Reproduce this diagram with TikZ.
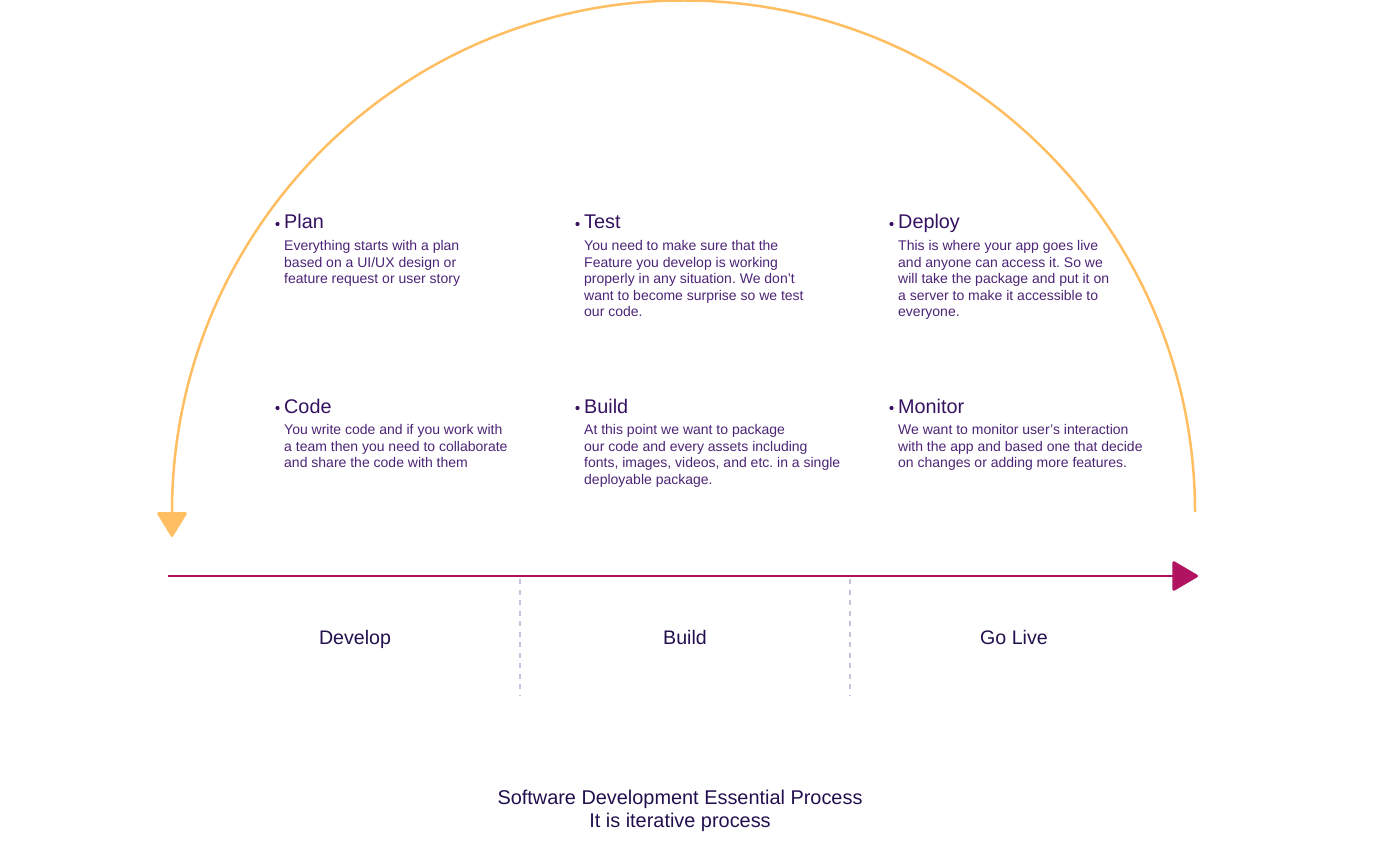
\documentclass[tikz,border=0pt]{standalone}
\usepackage{fontspec}
\setmainfont{Liberation Sans}
\usetikzlibrary{arrows.meta}
\frenchspacing
\definecolor{arcorange}{RGB}{255,190,98}
\definecolor{axismag}{RGB}{176,20,96}
\definecolor{dashlav}{RGB}{200,192,222}
\definecolor{titlepur}{RGB}{52,18,96}
\definecolor{bodypur}{RGB}{76,36,118}
\definecolor{labnavy}{RGB}{34,16,78}
\tikzset{
  steptitle/.style={anchor=base west, inner sep=0pt, text=titlepur, font=\fontsize{19.8}{22}\selectfont},
  stepbody/.style={anchor=north west, inner sep=0pt, align=left, text=bodypur, font=\fontsize{14}{16.5}\selectfont},
  stepdot/.style={circle, fill=titlepur, draw=none, inner sep=0pt, minimum size=4.2pt},
  phaselabel/.style={anchor=base, inner sep=0pt, text=labnavy, font=\fontsize{19.6}{22}\selectfont},
  captext/.style={anchor=base, inner sep=0pt, text=labnavy, font=\fontsize{19.9}{22}\selectfont},
  divider/.style={draw=dashlav, line width=1.1pt, dash pattern=on 5pt off 5.5pt},
}
\begin{document}
\begin{tikzpicture}[x=1pt,y=-1pt]
\useasboundingbox (0,0) rectangle (1400,861);
% arc
\coordinate (arcS) at (1195,512);
\coordinate (arcE) at (172,512);
\coordinate (arcTip) at (172,537);
\draw[arcorange, line width=2.5pt, -{Triangle[length=26pt,width=31pt,round]}]
  (arcS) arc[start angle=0, end angle=-180, radius=511.5] -- (arcTip);
% axis
\coordinate (axL) at (168,576);
\coordinate (axR) at (1198,576);
\draw[axismag, line width=2.8pt, -{Triangle[length=27pt,width=31pt,round]}] (axL) -- (axR);
% dividers
\coordinate (d1a) at (520,579); \coordinate (d1b) at (520,695);
\coordinate (d2a) at (850,579); \coordinate (d2b) at (850,695);
\draw[divider] (d1a) -- (d1b);
\draw[divider] (d2a) -- (d2b);
% phase labels
\node[phaselabel] (ph1) at (355,644) {Develop};
\node[phaselabel] (ph2) at (685,644) {Build};
\node[phaselabel] (ph3) at (1014,644) {Go Live};
% steps
\node[stepdot] (b1) at (277.5,224) {};
\node[steptitle] (t1) at (284,229) {Plan};
\node[stepbody] (x1) at (284,240.5) {Everything starts with a plan\\based on a UI/UX design or\\feature request or user story};
\node[stepdot] (b2) at (577.5,224) {};
\node[steptitle] (t2) at (584,229) {Test};
\node[stepbody] (x2) at (584,240.5) {You need to make sure that the\\Feature you develop is working\\properly in any situation. We don’t\\want to become surprise so we test\\our code.};
\node[stepdot] (b3) at (891.5,224) {};
\node[steptitle] (t3) at (898,229) {Deploy};
\node[stepbody] (x3) at (898,240.5) {This is where your app goes live\\and anyone can access it. So we\\will take the package and put it on\\a server to make it accessible to\\everyone.};
\node[stepdot] (b4) at (277.5,408) {};
\node[steptitle] (t4) at (284,413) {Code};
\node[stepbody] (x4) at (284,424.5) {You write code and if you work with\\a team then you need to collaborate\\and share the code with them};
\node[stepdot] (b5) at (577.5,408) {};
\node[steptitle] (t5) at (584,413) {Build};
\node[stepbody] (x5) at (584,424.5) {At this point we want to package\\our code and every assets including\\fonts, images, videos, and etc. in a single\\deployable package.};
\node[stepdot] (b6) at (891.5,408) {};
\node[steptitle] (t6) at (898,413) {Monitor};
\node[stepbody] (x6) at (898,424.5) {We want to monitor user’s interaction\\with the app and based one that decide\\on changes or adding more features.};
% caption
\node[captext] (cap1) at (680,804) {Software Development Essential Process};
\node[captext] (cap2) at (680,827) {It is iterative process};
\end{tikzpicture}
\end{document}
